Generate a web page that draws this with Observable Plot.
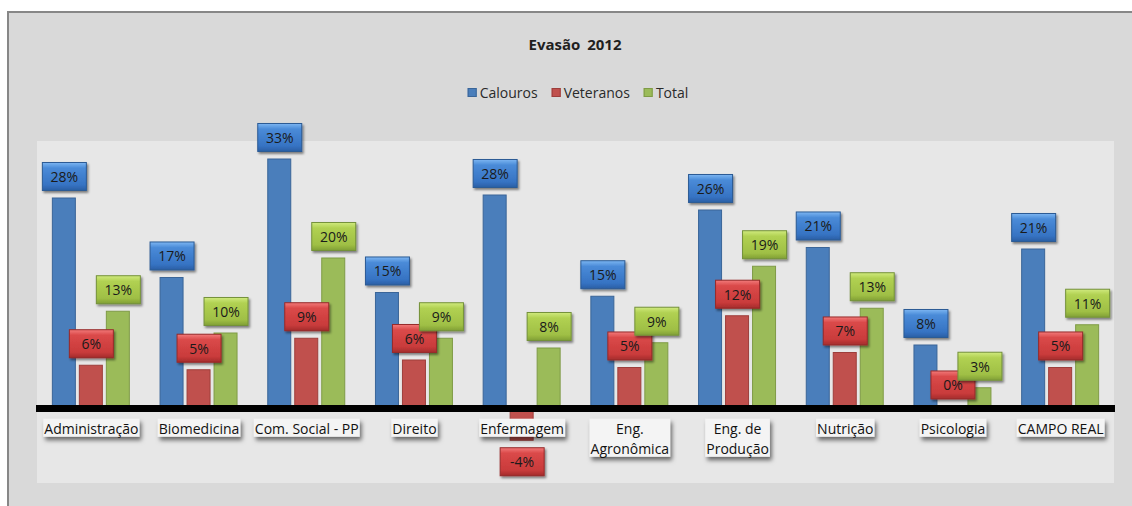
<!DOCTYPE html>
<html>
<head>
<meta charset="utf-8">
<script src="https://cdn.jsdelivr.net/npm/d3@7"></script>
<script src="https://cdn.jsdelivr.net/npm/@observablehq/plot@0.6"></script>
<style>
  html, body { margin: 0; padding: 0; background: #ffffff; width: 1132px; height: 506px; overflow: hidden; }
  #frame { position: absolute; left: 7px; top: 11px; width: 1130px; height: 500px; background: #d9d9d9;
           border-left: 2px solid #878787; border-top: 2px solid #878787; box-sizing: border-box; }
  #plotbg { position: absolute; left: 37px; top: 141px; width: 1077px; height: 342px; background: #e7e7e7; }
  #title { position: absolute; left: 575px; top: 34px; transform: translateX(-50%); font: bold 15px "Open Sans", sans-serif;
           color: #1f1f1f; white-space: nowrap; word-spacing: 3px; }
  #legend { position: absolute; left: 578px; top: 83px; transform: translateX(-50%); display: flex; gap: 14px;
            font: 14px "Open Sans", sans-serif; color: #2a2a2a; white-space: nowrap; }
  #legend .item { display: flex; align-items: center; gap: 3px; }
  #legend .sw { width: 9px; height: 9px; box-sizing: border-box; }
  #chart { position: absolute; left: 0; top: 110px; }
</style>
</head>
<body>
<div id="frame"></div>
<div id="plotbg"></div>
<div id="title">Evasão 2012</div>
<div id="legend"></div>
<div id="chart"></div>
<script>
const categories = ["Administração", "Biomedicina", "Com. Social - PP", "Direito", "Enfermagem",
  "Eng.\nAgronômica", "Eng. de\nProdução", "Nutrição", "Psicologia", "CAMPO REAL"];
const series = ["Calouros", "Veteranos", "Total"];
const calouros  = [28.0, 17.4, 33.2, 15.4, 28.4, 14.9, 26.4, 21.4, 8.4, 21.2];
const veteranos = [5.7, 5.1, 9.3, 6.4, -4.3, 5.4, 12.3, 7.4, 0.2, 5.4];
const total     = [12.9, 10.0, 20.0, 9.3, 8.0, 8.7, 18.9, 13.3, 2.7, 11.1];

const barFill   = ["#4a7ebb", "#c0504d", "#9bbb59"];
const barStroke = ["#3a6598", "#9d3e3b", "#7f9b46"];
const boxStroke = ["#2b5a94", "#962a2a", "#74913a"];
const boxStops = [
  ["#7db6f2", "#4a8bd8", "#3673c3", "#2a5ea4"],
  ["#f27a7a", "#da4949", "#c93b3b", "#a32c2c"],
  ["#d0ea7e", "#b1d152", "#9fbf45", "#809f35"]
];

const values = [calouros, veteranos, total];
const data = categories.flatMap((c, i) => series.map((s, j) => ({cat: c, series: s, value: values[j][i]})));
const fmt = v => `${Math.round(v)}%`;

// legend
const legend = document.getElementById("legend");
series.forEach((s, j) => {
  const it = document.createElement("div"); it.className = "item";
  it.innerHTML = `<span class="sw" style="background:${barFill[j]};border:1px solid ${barStroke[j]}"></span><span>${s}</span>`;
  legend.appendChild(it);
});

const marks = [];
series.forEach((s, j) => {
  marks.push(Plot.barY(data.filter(d => d.series === s), {
    fx: "cat", x: "series", y: "value", fill: barFill[j], stroke: barStroke[j], strokeWidth: 1
  }));
});
marks.push(Plot.ruleY([0], {stroke: "#000", strokeWidth: 7, insetLeft: -1, insetRight: -1}));
marks.push(Plot.text(categories, {
  fx: d => d, y: d => 0, text: d => d, dy: 11, lineAnchor: "top", lineHeight: 1.43,
  fontSize: 14, fill: "#111", className: "catlab"
}));
series.forEach((s, j) => {
  marks.push(Plot.text(data.filter(d => d.series === s && d.value >= 0), {
    fx: "cat", x: "series", y: "value", text: d => fmt(d.value), dy: -21, lineAnchor: "middle",
    fontSize: 14, fill: "#1a1a1a", className: "vlab" + j
  }));
  marks.push(Plot.text(data.filter(d => d.series === s && d.value < 0), {
    fx: "cat", x: "series", y: "value", text: d => fmt(d.value), dy: 22, lineAnchor: "middle",
    fontSize: 14, fill: "#1a1a1a", className: "vlab" + j
  }));
});

const svg = Plot.plot({
  width: 1132, height: 390,
  marginLeft: 37, marginRight: 18, marginTop: 31, marginBottom: 17,
  style: {background: "transparent", fontFamily: "'Open Sans', sans-serif", fontSize: "14px", overflow: "visible"},
  fx: {domain: categories, padding: 0, round: false, axis: null, label: null},
  x: {domain: series, paddingInner: 0.148, paddingOuter: 0.569, round: false, axis: null},
  y: {domain: [-10, 35.6], axis: null},
  marks
});
document.getElementById("chart").appendChild(svg);

// decorations: gradients and shadows
const NS = "http://www.w3.org/2000/svg";
const defs = document.createElementNS(NS, "defs");
let defsHtml = "";
boxStops.forEach((st, j) => {
  defsHtml += `<linearGradient id="bg${j}" x1="0" y1="0" x2="0" y2="1">
    <stop offset="0" stop-color="${st[0]}"/><stop offset="0.2" stop-color="${st[1]}"/>
    <stop offset="0.8" stop-color="${st[2]}"/><stop offset="1" stop-color="${st[3]}"/></linearGradient>`;
});
defsHtml += `<filter id="sh" x="-30%" y="-30%" width="160%" height="180%">
  <feDropShadow dx="1.5" dy="2" stdDeviation="1.3" flood-color="#000" flood-opacity="0.45"/></filter>
  <filter id="sh2" x="-20%" y="-30%" width="140%" height="200%">
  <feDropShadow dx="2" dy="3.5" stdDeviation="2" flood-color="#000" flood-opacity="0.55"/></filter>`;
defs.innerHTML = defsHtml;
svg.insertBefore(defs, svg.firstChild);

function boxify(sel, make) {
  svg.querySelectorAll(sel).forEach(t => {
    const b = t.getBBox();
    const r = document.createElementNS(NS, "rect");
    make(r, b);
    const tr = t.getAttribute("transform");
    if (tr) r.setAttribute("transform", tr);
    t.parentNode.insertBefore(r, t);
  });
}
boxify("g.catlab text", (r, b) => {
  r.setAttribute("x", b.x - 1); r.setAttribute("y", b.y);
  r.setAttribute("width", b.width + 2); r.setAttribute("height", b.height - 1);
  r.setAttribute("fill", "#f4f4f4"); r.setAttribute("filter", "url(#sh2)");
});
series.forEach((s, j) => {
  boxify(`g.vlab${j} text`, (r, b) => {
    const cx = b.x + b.width / 2, cy = b.y + b.height / 2;
    r.setAttribute("x", cx - 22); r.setAttribute("y", cy - 14);
    r.setAttribute("width", 44); r.setAttribute("height", 28);
    r.setAttribute("fill", `url(#bg${j})`); r.setAttribute("stroke", boxStroke[j]);
    r.setAttribute("stroke-width", 1); r.setAttribute("filter", "url(#sh)");
  });
});
</script>
</body>
</html>
